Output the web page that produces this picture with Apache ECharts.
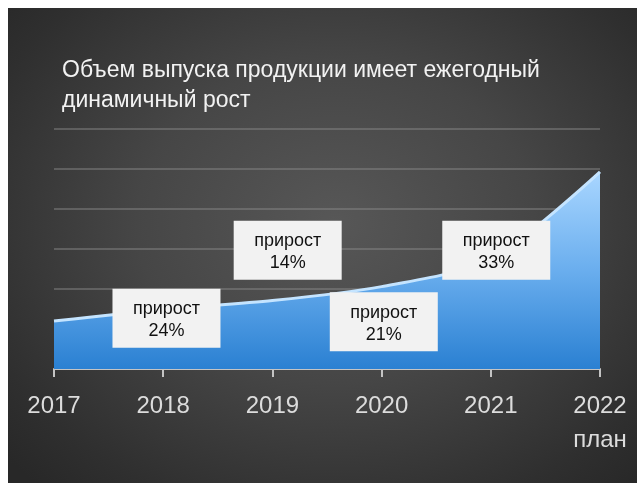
<!DOCTYPE html>
<html>
<head>
<meta charset="utf-8">
<script src="https://cdn.jsdelivr.net/npm/echarts@6/dist/echarts.min.js"></script>
<style>
  html, body { margin: 0; padding: 0; background: #ffffff; }
  #bg { position: absolute; left: 8px; top: 8px; width: 629px; height: 475px;
        background: radial-gradient(ellipse 70% 75% at 52% 45%, #575757 0%, #464646 45%, #2f2f2f 85%, #282828 100%); }
  #chart { position: absolute; left: 0; top: 0; width: 637px; height: 483px; }
</style>
</head>
<body>
<div id="bg"></div>
<div id="chart"></div>
<script>
const titleText = 'Объем выпуска продукции имеет ежегодный\nдинамичный рост';
const categories = ['2017', '2018', '2019', '2020', '2021', '2022\nплан'];
const volume = [1.2, 1.49, 1.71, 2.06, 2.73, 4.93];
const growthLabels = ['24%', '14%', '21%', '33%'];
const growthBoxX = [1.03, 2.14, 3.02, 4.05];
const growthBoxY = [1.27, 2.97, 1.18, 2.97];

const FONT = '"Liberation Sans", Arial, sans-serif';

const chart = echarts.init(document.getElementById('chart'), null, { renderer: 'canvas' });
chart.setOption({
  backgroundColor: 'transparent',
  animation: false,
  title: {
    text: titleText,
    left: 57, top: 51,
    textStyle: { color: '#f2f2f2', fontSize: 23, fontWeight: 'normal', fontFamily: FONT, lineHeight: 30 }
  },
  grid: { left: 54, right: 37, top: 129, bottom: 114 },
  xAxis: [{
    type: 'category',
    data: categories,
    boundaryGap: false,
    axisLine: { lineStyle: { color: '#c4c4c4', width: 2 } },
    axisTick: { show: true, length: 8, alignWithLabel: true, lineStyle: { color: '#c4c4c4', width: 2 } },
    axisLabel: { color: '#dcdcdc', fontSize: 24, fontFamily: FONT, margin: 20, lineHeight: 34, interval: 0 },
    splitLine: { show: false }
  }, {
    type: 'value', min: 0, max: 5, show: false
  }],
  yAxis: {
    type: 'value', min: 0, max: 6, interval: 1,
    axisLabel: { show: false }, axisLine: { show: false }, axisTick: { show: false },
    splitLine: { lineStyle: { color: 'rgba(140,140,140,0.45)', width: 2 } }
  },
  series: [{
    type: 'line',
    data: volume,
    smooth: 0.25,
    symbol: 'none',
    lineStyle: { color: '#c4e4ff', width: 3 },
    areaStyle: {
      opacity: 1,
      color: new echarts.graphic.LinearGradient(0, 0, 0, 1, [
        { offset: 0, color: '#a9d6ff' },
        { offset: 0.5, color: '#6aaeee' },
        { offset: 1, color: '#2a80d2' }
      ])
    },
    z: 2
  }, {
    type: 'scatter',
    xAxisIndex: 1,
    data: growthLabels.map((g, i) => [growthBoxX[i], growthBoxY[i], g]),
    symbol: 'rect',
    symbolSize: [108, 59],
    itemStyle: { color: '#f2f2f2', opacity: 1 },
    label: {
      show: true, position: 'inside', offset: [0, 2],
      formatter: p => 'прирост\n' + p.value[2],
      color: '#111111', fontSize: 18, lineHeight: 22, fontFamily: FONT
    },
    emphasis: { disabled: true },
    z: 5
  }]
});
</script>
</body>
</html>
